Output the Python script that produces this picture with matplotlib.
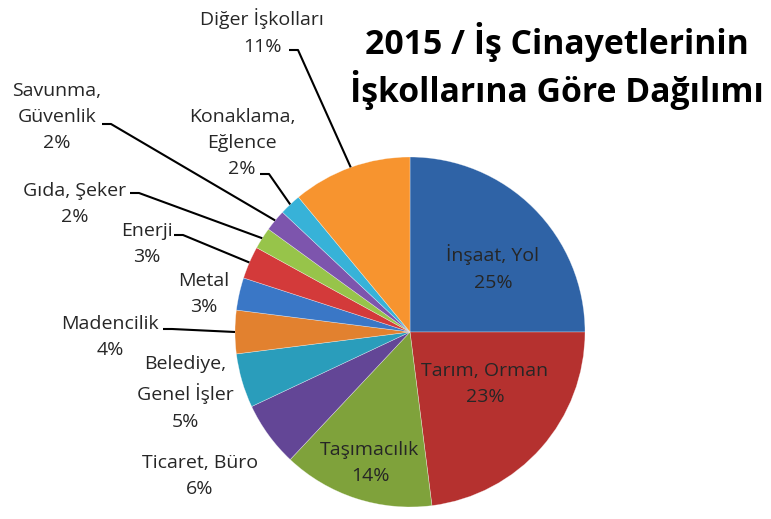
import numpy as np
import matplotlib.pyplot as plt

#  ############################# Data ###################################

categories = ['İnşaat, Yol', 'Tarım, Orman', 'Taşımacılık', 'Ticaret, Büro',
              'Belediye,\nGenel İşler', 'Madencilik', 'Metal', 'Enerji',
              'Gıda, Şeker', 'Savunma,\nGüvenlik', 'Konaklama,\nEğlence',
              'Diğer İşkolları']
shares = [25, 23, 14, 6, 5, 4, 3, 3, 2, 2, 2, 11]
colors = ['#2f63a6', '#b5312f', '#7fa23b', '#634696', '#2a9dbb', '#e2812f',
          '#3a77c6', '#d33a3a', '#97c44a', '#7d55ad', '#37b2d8', '#f7942f']
title = '2015 / İş Cinayetlerinin\nİşkollarına Göre Dağılımı'

#  ############################# Layout (pixels) ########################

W, H = 771, 519
cx, cy, R = 410, 332, 175

# label text positions (image pixels) and start of leader line, if any
label_pos = {
    'İnşaat, Yol': (493, 268, None),
    'Tarım, Orman': (485, 384, None),
    'Taşımacılık': (370, 463, None),
    'Ticaret, Büro': (200, 476, None),
    'Belediye,\nGenel İşler': (185, 393, None),
    'Madencilik': (110, 337, (163, 329)),
    'Metal': (204, 294, None),
    'Enerji': (147, 244, (174, 235)),
    'Gıda, Şeker': (75, 204, (130, 193)),
    'Savunma,\nGüvenlik': (57, 117, (102, 124)),
    'Konaklama,\nEğlence': (242, 143, (260, 174)),
    'Diğer İşkolları': (262, 32, (289, 50)),
}

plt.rcParams['font.family'] = ['Open Sans', 'DejaVu Sans']

fig = plt.figure(figsize=(W / 100, H / 100), dpi=100)
ax = fig.add_axes([0, 0, 1, 1])

wedges, _ = ax.pie(shares, colors=colors, startangle=90, counterclock=False,
                   center=(cx, H - cy), radius=R, frame=True,
                   wedgeprops=dict(linewidth=0.4, edgecolor='#ffffff80'))
ax.set_xlim(0, W)
ax.set_ylim(0, H)
ax.set_aspect('equal')
ax.axis('off')

for w, name, val in zip(wedges, categories, shares):
    x, y, lead = label_pos[name]
    txt = name + '\n' + str(val) + '%'
    ax.text(x, H - y, txt, ha='center', va='center', fontsize=14,
            color='#262626', linespacing=1.6)
    if lead is not None:
        mid = np.deg2rad((w.theta1 + w.theta2) / 2)
        ex = cx + R * np.cos(mid)
        ey = (H - cy) + R * np.sin(mid)
        ax.plot([lead[0], lead[0] + 9, ex], [H - lead[1], H - lead[1], ey],
                color='black', linewidth=1.5, solid_capstyle='butt')

ax.text(557, H - 66, title, ha='center', va='center', fontsize=24.3,
        fontweight='bold', color='black', linespacing=1.28)

plt.savefig('out.png', dpi=100)
